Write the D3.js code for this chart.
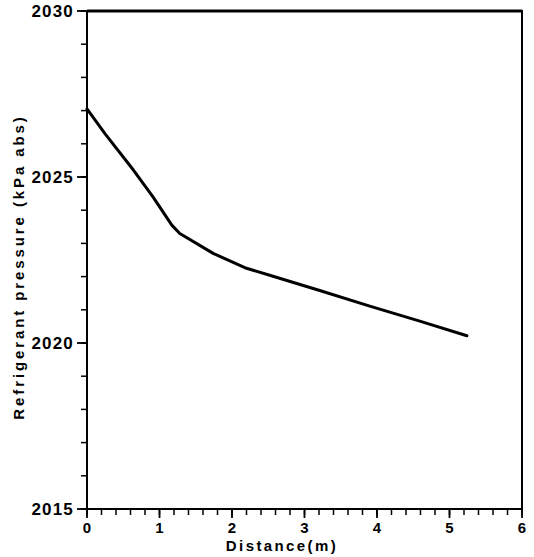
<!DOCTYPE html>
<html><head><meta charset="utf-8">
<script src="https://cdn.jsdelivr.net/npm/d3@7"></script>
<style>
body{margin:0;background:#fff;}
svg{display:block;}
text{font-family:"Liberation Sans",Arial,sans-serif;font-weight:bold;fill:#000;}
</style></head>
<body>
<svg id="c" width="534" height="557"></svg>
<script>
const distance = [0, 0.25, 0.64, 0.91, 1.17, 1.28, 1.74, 2.2, 2.52, 3.21, 3.9, 4.59, 5.24];
const pressure = [2027.05, 2026.3, 2025.21, 2024.4, 2023.55, 2023.3, 2022.7, 2022.25, 2022.04, 2021.58, 2021.11, 2020.66, 2020.22];
const xTicks = [0, 1, 2, 3, 4, 5, 6];
const yTicks = [2015, 2020, 2025, 2030];
const xTitle = "Distance(m)";
const yTitle = "Refrigerant pressure (kPa abs)";

const svg = d3.select("#c");
const L = 87, R = 522, T = 11, B = 509;
const x = d3.scaleLinear().domain([0, 6]).range([L, R]);
const y = d3.scaleLinear().domain([2015, 2030]).range([B, T]);

// minor ticks
const xMinor = d3.range(0, 6.0001, 0.2);
svg.append("g").selectAll("line").data(xMinor).join("line")
  .attr("x1", d => x(d)).attr("x2", d => x(d))
  .attr("y1", B).attr("y2", B + 6)
  .attr("stroke", "#000").attr("stroke-width", 1.5);
svg.append("g").selectAll("line").data(xTicks).join("line")
  .attr("x1", d => x(d)).attr("x2", d => x(d))
  .attr("y1", B).attr("y2", B + 9)
  .attr("stroke", "#000").attr("stroke-width", 1.8);

const yMinor = d3.range(2015, 2030.001, 1);
svg.append("g").selectAll("line").data(yMinor).join("line")
  .attr("x1", L - 6).attr("x2", L)
  .attr("y1", d => y(d)).attr("y2", d => y(d))
  .attr("stroke", "#000").attr("stroke-width", 1.5);
svg.append("g").selectAll("line").data(yTicks).join("line")
  .attr("x1", L - 10).attr("x2", L)
  .attr("y1", d => y(d)).attr("y2", d => y(d))
  .attr("stroke", "#000").attr("stroke-width", 1.8);

// frame
svg.append("rect").attr("x", L).attr("y", T).attr("width", R - L).attr("height", B - T)
  .attr("fill", "none").attr("stroke", "#000").attr("stroke-width", 2);
svg.append("line").attr("x1", L).attr("x2", R).attr("y1", y(2030)).attr("y2", y(2030))
  .attr("stroke", "#000").attr("stroke-width", 3);

// tick labels
svg.append("g").selectAll("text").data(xTicks).join("text")
  .attr("x", d => x(d)).attr("y", 533)
  .attr("text-anchor", "middle").attr("font-size", 15)
  .text(d => d);
svg.append("g").selectAll("text").data(yTicks).join("text")
  .attr("x", 74).attr("y", d => y(d) + 6)
  .attr("text-anchor", "end").attr("font-size", 17).attr("letter-spacing", 1.2)
  .text(d => d);

// titles
svg.append("text").attr("x", 282).attr("y", 551)
  .attr("text-anchor", "middle").attr("font-size", 15).attr("letter-spacing", 2.4)
  .text(xTitle);
svg.append("text").attr("transform", "translate(24,267) rotate(-90)")
  .attr("text-anchor", "middle").attr("font-size", 15).attr("letter-spacing", 2.9)
  .text(yTitle);

// curve
const line = d3.line().x((d, i) => x(distance[i])).y(d => y(d));
svg.append("path").datum(pressure).attr("d", line)
  .attr("fill", "none").attr("stroke", "#000").attr("stroke-width", 3)
  .attr("stroke-linecap", "round").attr("stroke-linejoin", "round");
</script>
</body></html>
